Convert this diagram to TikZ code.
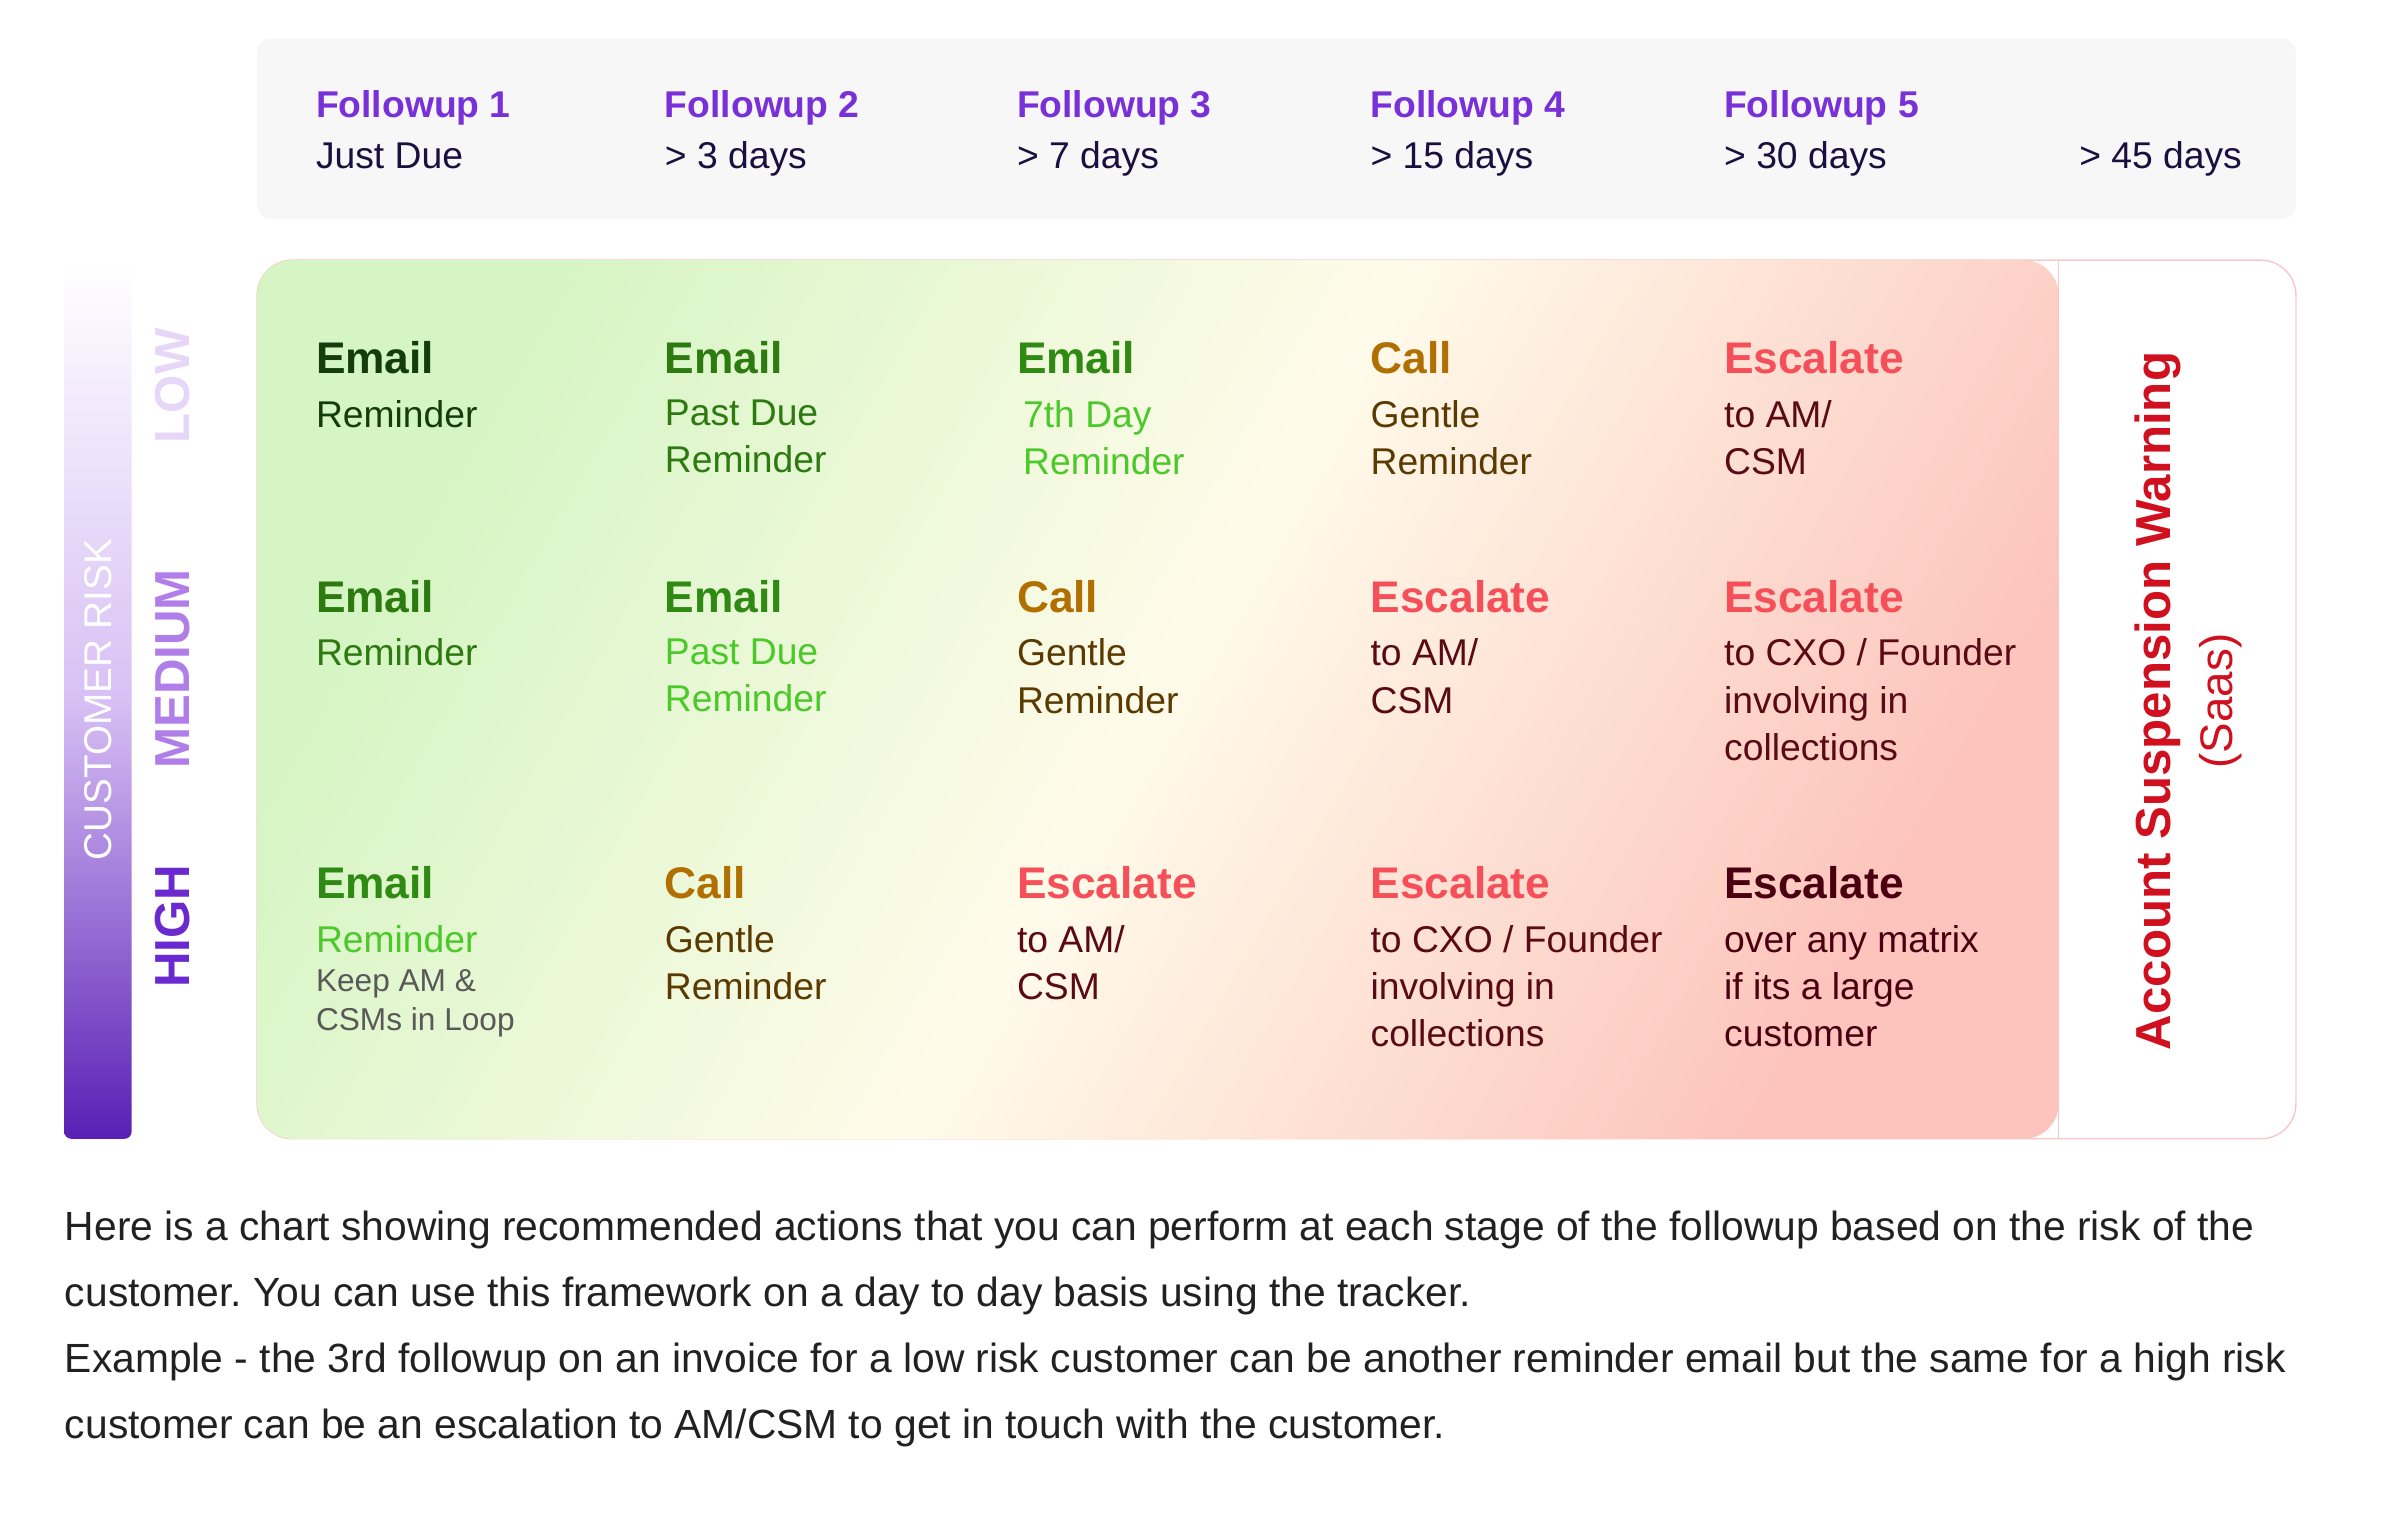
\documentclass[tikz,border=0pt]{standalone}
\usepackage{fontspec}
\setmainfont{Liberation Sans}
\usetikzlibrary{positioning}
\frenchspacing
\definecolor{hdpurple}{HTML}{7A30D8}
\definecolor{hdnavy}{HTML}{1A1040}
\definecolor{grdark}{HTML}{143D0E}
\definecolor{grmid}{HTML}{2C7A10}
\definecolor{grhead}{HTML}{2E8A12}
\definecolor{grlight}{HTML}{4CC92A}
\definecolor{callhd}{HTML}{B06F00}
\definecolor{calltx}{HTML}{5A3A00}
\definecolor{eschd}{HTML}{F5505A}
\definecolor{esctx}{HTML}{5A0A14}
\definecolor{escdark}{HTML}{4A0010}
\definecolor{suspred}{HTML}{D0101E}
\definecolor{lowlbl}{HTML}{E6D6F8}
\definecolor{medlbl}{HTML}{B07EE8}
\definecolor{highlbl}{HTML}{6A2AD0}
\definecolor{bartop}{HTML}{D8C0F5}
\definecolor{barbot}{HTML}{5A1FB5}
\definecolor{grnbg}{HTML}{D6F5C4}
\definecolor{pinkbg}{HTML}{FCC4BC}
\definecolor{creambg}{HTML}{FFFBEA}
\definecolor{pinkline}{HTML}{F8C8C8}
\tikzset{%
	every head/.style={
		anchor=base west,
		inner sep=0pt,
		font=\fontsize{12.6}{15}\selectfont\bfseries
	},
	every cell/.style={
		anchor=north west,
		inner sep=0pt,
		align=left,
		font=\fontsize{10.6}{13.4}\selectfont,
		execute at begin node=\vphantom{Ah}
	},
	risk label/.style={
		rotate=90,
		inner sep=0pt,
		font=\fontsize{14}{16}\selectfont\bfseries
	},
}

\begin{document}
\begin{tikzpicture}[x=0.01531cm, y=-0.01531cm]
	\useasboundingbox (0,0) rectangle (1568,993);
	
	% Header band
	\fill[black!3, rounded corners=4] (168,25) rectangle (1500,143);
	\foreach \n/\x/\d in {1/206/Just Due, 2/434/> 3 days, 3/664/> 7 days, 4/895/> 15 days, 5/1126/> 30 days}{
		\node[anchor=base west, inner sep=0pt, font=\fontsize{10.6}{13}\selectfont\bfseries, text=hdpurple] (fu\n) at (\x,77) {Followup \n};
		\node[anchor=base west, inner sep=0pt, font=\fontsize{10.6}{13}\selectfont, text=hdnavy] (dd\n) at (\x,110) {\d};
	}
	\node[anchor=base west, inner sep=0pt, font=\fontsize{10.6}{13}\selectfont, text=hdnavy] (dd6) at (1358,110) {> 45 days};
	
	% Matrix background
	\draw[pinkline, fill=white, rounded corners=10] (168,170) rectangle (1500,744);
	\shade[left color=grnbg, right color=pinkbg, middle color=creambg, shading angle=60, rounded corners=10]
		(1345,170) -- (168,170) -- (168,744) -- (1345,744) -- cycle;
	\draw[pinkline] (1345,170) -- (1345,744);
	
	% Risk bar
	\shade[top color=white, bottom color=barbot, middle color=bartop, rounded corners=2] (42,170) rectangle (86,744);
	\node[rotate=90, text=white, font=\fontsize{11}{13}\selectfont] (risk) at (64,457) {CUSTOMER RISK};
	\node[risk label, text=lowlbl] (low) at (113,252) {LOW};
	\node[risk label, text=medlbl] (medium) at (113,437) {MEDIUM};
	\node[risk label, text=highlbl] (high) at (113,605) {HIGH};
	
	% Row LOW
	\node[every head, text=grdark] (h11) at (206,244) {Email};
	\node[every cell, text=grdark] (c11) at (206,261) {Reminder};
	\node[every head, text=grmid] (h12) at (434,244) {Email};
	\node[every cell, text=grmid] (c12) at (434,261) {Past Due\\Reminder};
	\node[every head, text=grhead] (h13) at (664,244) {Email};
	\node[every cell, text=grlight] (c13) at (668,261) {7th Day\\Reminder};
	\node[every head, text=callhd] (h14) at (895,244) {Call};
	\node[every cell, text=calltx] (c14) at (895,261) {Gentle\\Reminder};
	\node[every head, text=eschd] (h15) at (1126,244) {Escalate};
	\node[every cell, text=esctx] (c15) at (1126,261) {to AM/\\CSM};
	
	% Row MEDIUM
	\node[every head, text=grmid] (h21) at (206,400) {Email};
	\node[every cell, text=grmid] (c21) at (206,417) {Reminder};
	\node[every head, text=grhead] (h22) at (434,400) {Email};
	\node[every cell, text=grlight] (c22) at (434,417) {Past Due\\Reminder};
	\node[every head, text=callhd] (h23) at (664,400) {Call};
	\node[every cell, text=calltx] (c23) at (664,417) {Gentle\\Reminder};
	\node[every head, text=eschd] (h24) at (895,400) {Escalate};
	\node[every cell, text=esctx] (c24) at (895,417) {to AM/\\CSM};
	\node[every head, text=eschd] (h25) at (1126,400) {Escalate};
	\node[every cell, text=esctx] (c25) at (1126,417) {to CXO / Founder\\involving in\\collections};
	
	% Row HIGH
	\node[every head, text=grhead] (h31) at (206,587) {Email};
	\node[every cell, text=grlight] (c31) at (206,604) {Reminder};
	\node[every cell, text=black!65, font=\fontsize{9}{11.2}\selectfont] (n31) at (206,633) {Keep AM \&\\CSMs in Loop};
	\node[every head, text=callhd] (h32) at (434,587) {Call};
	\node[every cell, text=calltx] (c32) at (434,604) {Gentle\\Reminder};
	\node[every head, text=eschd] (h33) at (664,587) {Escalate};
	\node[every cell, text=esctx] (c33) at (664,604) {to AM/\\CSM};
	\node[every head, text=eschd] (h34) at (895,587) {Escalate};
	\node[every cell, text=esctx] (c34) at (895,604) {to CXO / Founder\\involving in\\collections};
	\node[every head, text=escdark] (h35) at (1126,587) {Escalate};
	\node[every cell, text=escdark] (c35) at (1126,604) {over any matrix\\if its a large\\customer};
	
	% Suspension column
	\node[rotate=90, text=suspred, font=\fontsize{14}{16}\selectfont\bfseries] (susp) at (1410,458) {Account Suspension Warning};
	\node[rotate=90, text=suspred, font=\fontsize{13}{15}\selectfont, right=-2pt of susp.south, anchor=north] (saas) {(Saas)};
	
	% Description
	\node[anchor=north west, inner sep=0pt, align=left, text=black!87, font=\fontsize{11.6}{18.7}\selectfont,
		execute at begin node=\vphantom{Ah}] (desc) at (42,791)
		{Here is a chart showing recommended actions that you can perform at each stage of the followup based on the risk of the\\
		customer. You can use this framework on a day to day basis using the tracker.\\
		Example - the 3rd followup on an invoice for a low risk customer can be another reminder email but the same for a high risk\\
		customer can be an escalation to AM/CSM to get in touch with the customer.};
\end{tikzpicture}
\end{document}
